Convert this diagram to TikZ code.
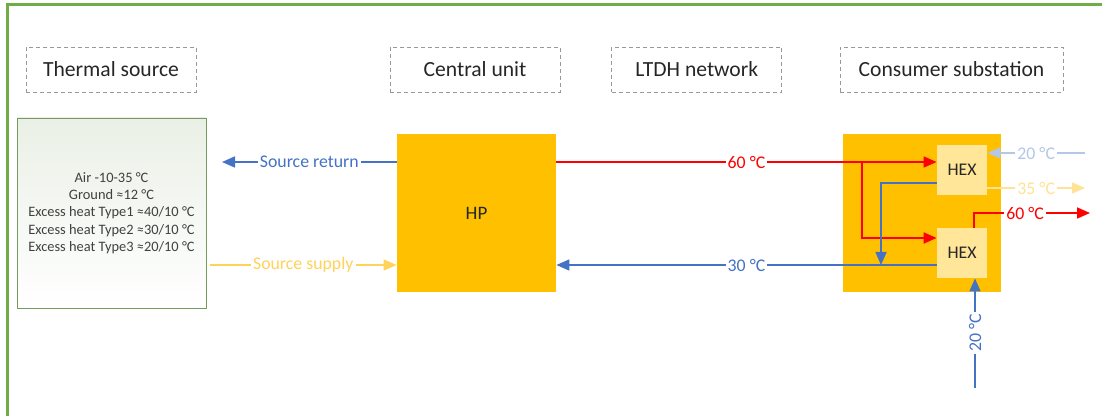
\documentclass[tikz,border=0pt]{standalone}
\usepackage{fontspec}
\setmainfont{Carlito}
\usetikzlibrary{arrows.meta, positioning, calc}
\definecolor{frgreen}{RGB}{112,173,71}
\definecolor{hporange}{RGB}{255,192,0}
\definecolor{hexfill}{RGB}{255,230,153}
\definecolor{pipered}{RGB}{255,0,0}
\definecolor{pipeblue}{RGB}{68,114,196}
\definecolor{lightblue}{RGB}{180,199,231}
\definecolor{supplyyel}{RGB}{255,210,90}
\definecolor{paleyel}{RGB}{255,226,150}
\definecolor{srcgreen}{RGB}{234,240,230}

\begin{document}
\begin{tikzpicture}[x=0.5pt,y=-0.5pt,
    header/.style={draw=gray!80,dash pattern=on 2pt off 1.5pt,minimum width=85pt,minimum height=22.5pt,font=\fontsize{10.8}{12}\selectfont,text=black!85},
    unit/.style={fill=hporange,minimum width=79.5pt,minimum height=79pt},
    hexbox/.style={fill=hexfill,minimum width=25pt,minimum height=25pt,font=\fontsize{8.9}{10}\selectfont,text=black!85},
    pipe/.style={line width=0.8pt,-{Triangle[length=6.5pt,width=5.5pt]}},
    lbl/.style={fill=white,inner sep=1pt,font=\fontsize{8.9}{10}\selectfont}]
    \useasboundingbox (0,0) rectangle (1102,416);
    % frame
    \draw[frgreen,line width=1.5pt] (7,416) -- (7,5) -- (1102,5);
    % Headers
    \node[header] (hsrc) at (111,69.5) {Thermal source};
    \node[header] (hcu) at (475,69.5) {Central unit};
    \node[header,right=25.5pt of hcu] (hnet) {LTDH network};
    \node[header,minimum width=111.5pt] (hsub) at (951.5,69.5) {Consumer substation};
    % Units
    \node[draw=frgreen!60!gray,top color=srcgreen,bottom color=white,minimum width=94.5pt,minimum height=95pt,
        align=center,font=\fontsize{7.2}{8.65}\selectfont,text=black!75] (src) at (111.5,213)
        {Air -10-35 °C\\Ground ≈12 °C\\Excess heat Type1 ≈40/10 °C\\Excess heat Type2 ≈30/10 °C\\Excess heat Type3 ≈20/10 °C};
    \node[unit,font=\fontsize{9.5}{10}\selectfont,text=black!85] (hp) at (476.5,213) {HP};
    \node[unit,minimum width=79pt] (sub) at (922,213) {};
    \node[hexbox] (hex1) at (962,170) {HEX};
    \node[hexbox] (hex2) at (962,253) {HEX};
    % pipe levels and free ends
    \coordinate (yhot) at (0,162);
    \coordinate (ycold) at (0,265);
    \coordinate (ret) at (222,162);
    \coordinate (sup) at (210,265);
    \coordinate (split) at (862,162);
    \coordinate (mix) at (881,265);
    \coordinate (cin) at (1085,153);
    \coordinate (cout) at (1085,188);
    \coordinate (dhw) at (1090,213);
    \coordinate (cw) at (975,388);
    % Source side
    \draw[pipe,pipeblue] (hp.west |- yhot) -- node[lbl,text=pipeblue] {Source return} (ret);
    \draw[pipe,supplyyel] (sup) -- node[lbl,text=supplyyel] {Source supply} (hp.west |- ycold);
    % Network
    \draw[pipe,pipered] (hp.east |- yhot) -- node[lbl,text=pipered] {60 °C} (hex1.west |- yhot);
    \draw[pipe,pipered,line width=1pt] (split) |- ($(hex2.west)+(0,-15)$);
    \draw[pipe,pipeblue] ($(hex1.west)+(0,13)$) -| (mix);
    \draw[pipe,pipeblue] ($(hex2.west)+(0,12)$) -- node[lbl,text=pipeblue] {30 °C} (hp.east |- ycold);
    % Consumer side
    \draw[pipe,lightblue] (cin) -- node[lbl,text=lightblue] {20 °C} (hex1.east |- cin);
    \draw[pipe,paleyel] (hex1.east |- cout) -- node[lbl,text=paleyel] {35 °C} (cout);
    \draw[pipe,pipered] ($(hex2.north)+(12,0)$) |- node[lbl,text=pipered,pos=0.72] {60 °C} (dhw);
    \draw[pipe,pipeblue] (cw) -- node[lbl,text=pipeblue,rotate=90] {20 °C} (hex2.south -| cw);
\end{tikzpicture}
\end{document}
